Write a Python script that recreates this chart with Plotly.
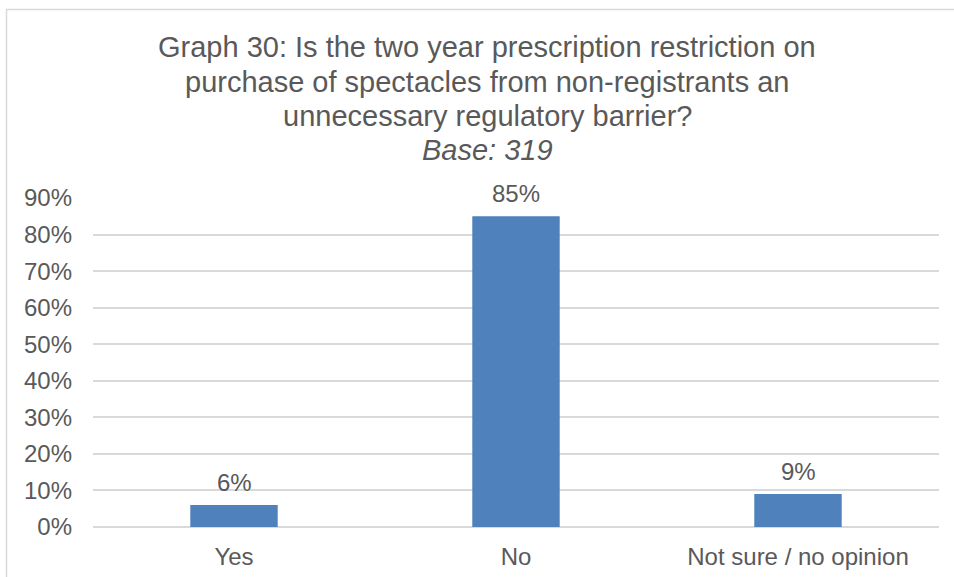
import plotly.graph_objects as go

# Survey answers and their shares (as fractions)
categories = ["Yes", "No", "Not sure / no opinion"]
shares = [0.06, 0.85, 0.09]
y_ticks = [0.0, 0.1, 0.2, 0.3, 0.4, 0.5, 0.6, 0.7, 0.8, 0.9]
y_tick_labels = ["0%", "10%", "20%", "30%", "40%", "50%", "60%", "70%", "80%", "90%"]

title_lines = [
    "Graph 30: Is the two year prescription restriction on",
    "purchase of spectacles from non-registrants an",
    "unnecessary regulatory barrier?",
    "<i>Base: 319</i>",
]

W, H = 954, 577
M_L, M_R, M_T, M_B = 93, 15, 198, 50
TEXT = "#595959"
GRID = "#D9D9D9"
FONT = "Liberation Sans, Arial, sans-serif"

fig = go.Figure(
    go.Bar(
        x=categories,
        y=shares,
        marker=dict(color="#4F81BD", line=dict(width=0)),
        width=0.31,
        hoverinfo="skip",
    )
)

# value labels above each bar
for c, v in zip(categories, shares):
    fig.add_annotation(
        x=c, y=v, text=f"{round(v * 100)}%", showarrow=False,
        yanchor="bottom", yshift=7,
        font=dict(family=FONT, size=24, color=TEXT),
    )

plot_w = W - M_L - M_R
plot_h = H - M_T - M_B


def paper_y(px):
    """Convert a pixel row (from the top) to paper y."""
    return ((H - M_B) - px) / plot_h


def paper_x(px):
    return (px - M_L) / plot_w


# title, one annotation per line so the line spacing stays tight
title_rows = [47, 82, 116, 150]
for line, row in zip(title_lines, title_rows):
    fig.add_annotation(
        x=paper_x(487), xref="paper", y=paper_y(row), yref="paper",
        text=line, showarrow=False, xanchor="center", yanchor="middle",
        font=dict(family=FONT, size=29, color=TEXT),
    )

# chart border
fig.add_shape(
    type="rect", xref="paper", yref="paper",
    x0=paper_x(6.5), x1=paper_x(W + 20),
    y0=paper_y(H + 10), y1=paper_y(9.5),
    line=dict(color=GRID, width=1.5), fillcolor="rgba(0,0,0,0)", layer="above",
)

fig.update_layout(
    width=W, height=H,
    margin=dict(l=M_L, r=M_R, t=M_T, b=M_B, autoexpand=False),
    paper_bgcolor="white", plot_bgcolor="white",
    showlegend=False,
    font=dict(family=FONT, size=24, color=TEXT),
    xaxis=dict(
        showgrid=False, showline=False, zeroline=False, ticks="",
        tickfont=dict(family=FONT, size=24, color=TEXT),
        ticklabelstandoff=13,
    ),
    yaxis=dict(
        range=[0, 0.9], tickvals=y_ticks, ticktext=y_tick_labels,
        showgrid=True, gridcolor=GRID, gridwidth=1.5,
        zeroline=True, zerolinecolor=GRID, zerolinewidth=1.5,
        showline=False, ticks="",
        tickfont=dict(family=FONT, size=24, color=TEXT),
        ticklabelstandoff=20,
    ),
    bargap=0.69,
)

fig.write_html("out.html")
